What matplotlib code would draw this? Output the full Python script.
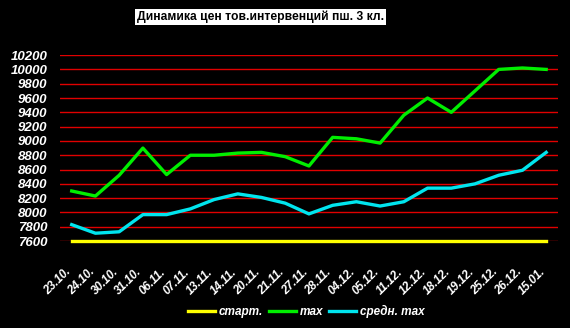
import matplotlib

matplotlib.use("Agg")
import matplotlib.pyplot as plt
import matplotlib.transforms as mtransforms
from matplotlib.lines import Line2D

dates = ["23.10.", "24.10.", "30.10.", "31.10.", "06.11.", "07.11.", "13.11.",
         "14.11.", "20.11.", "21.11.", "27.11.", "28.11.", "04.12.", "05.12.",
         "11.12.", "12.12.", "18.12.", "19.12.", "25.12.", "26.12.", "15.01."]
start = [7600] * 21
max_price = [8300, 8230, 8520, 8900, 8530, 8800, 8800, 8830, 8840, 8780, 8650,
             9050, 9030, 8970, 9360, 9600, 9400, 9700, 10000, 10020, 10000]
avg_max = [7830, 7710, 7730, 7970, 7970, 8050, 8180, 8260, 8210, 8130, 7980,
           8100, 8150, 8090, 8150, 8340, 8340, 8400, 8520, 8590, 8840]
yticks = list(range(7600, 10201, 200))

plt.rcParams["font.family"] = ["Liberation Sans", "DejaVu Sans"]

fig = plt.figure(figsize=(5.70, 3.28), dpi=100, facecolor="black")
ax = fig.add_axes([0.105, 0.265, 0.874, 0.567], facecolor="black")

x = list(range(len(dates)))
for y in yticks:
    ax.axhline(y, color="#e00000", lw=1.0, zorder=1)
ax.plot(x, start, color="#ffff00", lw=2.4, zorder=3, clip_on=False)
ax.plot(x, max_price, color="#00ee00", lw=2.4, zorder=3)
ax.plot(x, avg_max, color="#00e5ee", lw=2.4, zorder=3)

ax.set_xlim(-0.5, len(dates) - 0.5)
ax.set_ylim(7600, 10200)
ax.set_yticks(yticks)
ax.set_yticklabels([str(v) for v in yticks], color="white", fontsize=9.5,
                   fontweight="bold", fontstyle="italic")
ax.set_xticks(x)
ax.set_xticklabels(dates, color="white", fontsize=8.5, fontweight="bold",
                   fontstyle="italic", rotation=45, ha="right", va="top",
                   rotation_mode="anchor")
ax.tick_params(axis="both", length=0)
ax.tick_params(axis="x", pad=18)
ax.tick_params(axis="y", pad=9)
shift = mtransforms.ScaledTranslation(-7 / 100, 0, fig.dpi_scale_trans)
for lbl in ax.get_xticklabels():
    lbl.set_transform(lbl.get_transform() + shift)
for side in ax.spines.values():
    side.set_visible(False)

fig.text(0.457, 0.948, "Динамика цен тов.интервенций пш. 3 кл.", ha="center",
         va="center", fontsize=8.7, fontweight="bold", color="black",
         bbox=dict(facecolor="white", edgecolor="none", pad=1.5))

handles = [Line2D([], [], color="#ffff00", lw=2.4),
           Line2D([], [], color="#00ee00", lw=2.4),
           Line2D([], [], color="#00e5ee", lw=2.4)]
leg = fig.legend(handles, ["старт.", "max", "средн. max"], loc="center",
                 bbox_to_anchor=(0.537, 0.05), ncol=3, frameon=False,
                 handlelength=2.3, handletextpad=0.3, columnspacing=0.5,
                 prop=dict(size=8.5, weight="bold", style="italic"))
for t in leg.get_texts():
    t.set_color("white")

fig.savefig("out.png", dpi=100, facecolor="black")
